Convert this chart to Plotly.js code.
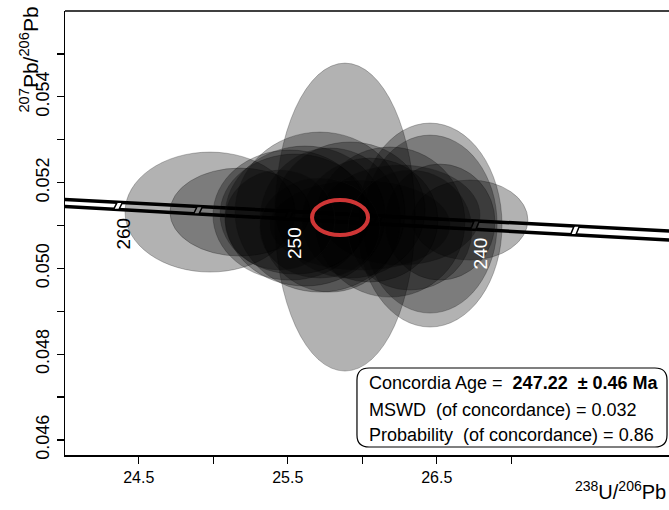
<!DOCTYPE html>
<html>
<head>
<meta charset="utf-8">
<script src="https://cdn.plot.ly/plotly-3.0.1.min.js"></script>
<style>html,body{margin:0;padding:0;background:#fff;}#chart{width:669px;height:510px;}</style>
</head>
<body>
<div id="chart"></div>
<script>
// ---- Data ----
// Analysis error ellipses: centre (238U/206Pb, 207Pb/206Pb) and half-axes
const ellX  = [24.978, 25.179, 25.515, 25.549, 25.616, 25.716, 25.884, 25.784, 25.918, 26.052,
               26.186, 26.455, 26.455, 26.723, 26.522, 26.253, 25.985, 25.716, 26.320, 25.448];
const ellY  = [0.051313, 0.051313, 0.051243, 0.051266, 0.051220, 0.051313, 0.051196, 0.051127, 0.051360, 0.051127,
               0.051080, 0.051010, 0.051033, 0.051127, 0.051080, 0.051243, 0.051010, 0.050940, 0.050893, 0.051127];
const ellSX = [0.570, 0.470, 0.517, 0.503, 0.537, 0.570, 0.470, 0.470, 0.503, 0.456,
               0.503, 0.483, 0.450, 0.389, 0.369, 0.537, 0.604, 0.403, 0.416, 0.369];
const ellSY = [0.001398, 0.001025, 0.001515, 0.001398, 0.001631, 0.001864, 0.003589, 0.001678, 0.001585, 0.001445,
               0.001748, 0.002377, 0.002074, 0.000932, 0.001352, 0.001165, 0.001049, 0.001165, 0.001398, 0.001165];

// Concordia age ellipse
const concEllX = 25.851, concEllY = 0.051185, concEllSX = 0.188, concEllSY = 0.000408;

// Concordia band (upper and lower bounding curves)
const concX     = [24.0, 24.5, 25.0, 25.5, 26.0, 26.5, 27.0, 27.5, 28.1];
const concUpper = [0.051605, 0.051516, 0.051425, 0.051334, 0.051243, 0.051154, 0.051064, 0.050973, 0.050866];
const concLower = [0.051442, 0.051346, 0.051248, 0.051152, 0.051057, 0.050959, 0.050863, 0.050768, 0.050651];

// Age markers on the concordia (Ma) and their 238U/206Pb positions
const ageMarks  = [260, 255, 250, 245, 240, 235];
const ageMarkX  = [24.361, 24.898, 25.508, 26.106, 26.757, 27.428];
const ageLabels = [260, 250, 240];

// Axis ticks (labelled major ticks, unlabelled minor ticks)
const xTickVals  = [24.5, 25.5, 26.5];
const xTickText  = ['24.5', '25.5', '26.5'];
const xMinorVals = [25.0, 26.0, 27.0];
const yTickVals  = [0.046, 0.048, 0.050, 0.052, 0.054];
const yTickText  = ['0.046', '0.048', '0.050', '0.052', '0.054'];
const yMinorVals = [0.047, 0.049, 0.051, 0.053, 0.055];

// Result text
const concAge = '247.22', concAgeErr = '0.46', mswd = '0.032', prob = '0.86';

// ---- Build ----
const FONT = 'Liberation Sans, Arial, sans-serif';
function interp(xs, ys, x) {
  for (let i = 0; i < xs.length - 1; i++) {
    if (x >= xs[i] && x <= xs[i + 1]) {
      const t = (x - xs[i]) / (xs[i + 1] - xs[i]);
      return ys[i] + t * (ys[i + 1] - ys[i]);
    }
  }
  return ys[ys.length - 1];
}

// ellipses drawn above the concordia band
const shapes = ellX.map((x, i) => ({
  type: 'circle', xref: 'x', yref: 'y', layer: 'above',
  x0: x - ellSX[i], x1: x + ellSX[i], y0: ellY[i] - ellSY[i], y1: ellY[i] + ellSY[i],
  fillcolor: 'rgba(0,0,0,0.3)', line: { color: 'rgba(20,20,20,0.45)', width: 0.6 }
}));

shapes.push({
  type: 'circle', xref: 'x', yref: 'y', layer: 'above',
  x0: concEllX - concEllSX, x1: concEllX + concEllSX, y0: concEllY - concEllSY, y1: concEllY + concEllSY,
  fillcolor: 'rgba(0,0,0,0)', line: { color: '#cf3636', width: 4 }
});

// top frame line
shapes.push({ type: 'line', xref: 'paper', yref: 'paper', layer: 'above',
  x0: 0, x1: 1, y0: 1, y1: 1, line: { color: 'black', width: 1.5 } });

// rounded legend box (paper coords)
(function () {
  const x0 = 0.4834, x1 = 0.9967, y0 = 0.018, y1 = 0.196, rx = 0.02, ry = 0.027;
  const p = `M ${x0 + rx},${y1} L ${x1 - rx},${y1} Q ${x1},${y1} ${x1},${y1 - ry} L ${x1},${y0 + ry} Q ${x1},${y0} ${x1 - rx},${y0} ` +
            `L ${x0 + rx},${y0} Q ${x0},${y0} ${x0},${y0 + ry} L ${x0},${y1 - ry} Q ${x0},${y1} ${x0 + rx},${y1} Z`;
  shapes.push({ type: 'path', xref: 'paper', yref: 'paper', layer: 'above', path: p,
    fillcolor: 'white', line: { color: 'black', width: 1.2 } });
})();

const traces = [
  { x: concX, y: concUpper, mode: 'lines', line: { color: 'black', width: 3.5 }, hoverinfo: 'skip' },
  { x: concX, y: concLower, mode: 'lines', line: { color: 'black', width: 3.5 }, hoverinfo: 'skip' }
];

// age marker parallelograms
const tx = [], ty = [];
const hw = 0.018, sk = 0.012;
ageMarkX.forEach(x => {
  const yu = interp(concX, concUpper, x), yl = interp(concX, concLower, x);
  tx.push(x - hw + sk, x + hw + sk, x + hw - sk, x - hw - sk, x - hw + sk, null);
  ty.push(yu, yu, yl, yl, yu, null);
});
traces.push({ x: tx, y: ty, mode: 'lines', fill: 'toself', fillcolor: 'white',
  line: { color: 'black', width: 1.5 }, hoverinfo: 'skip' });

const annotations = [];
ageLabels.forEach(a => {
  const i = ageMarks.indexOf(a);
  const x = ageMarkX[i];
  annotations.push({
    x: x, y: interp(concX, concLower, x), xref: 'x', yref: 'y',
    text: String(a), showarrow: false, textangle: -90,
    xanchor: 'center', yanchor: 'top', xshift: 5, yshift: -6,
    font: { family: FONT, size: 19, color: a === 260 ? 'black' : 'white' }
  });
});

annotations.push(
  { xref: 'paper', yref: 'paper', x: -0.06, y: 0.89, showarrow: false, textangle: -90,
    xanchor: 'center', yanchor: 'middle',
    text: '<sup>207</sup>Pb/<sup>206</sup>Pb', font: { family: FONT, size: 21, color: 'black' } },
  { xref: 'paper', yref: 'paper', x: 0.998, y: -0.079, showarrow: false,
    xanchor: 'right', yanchor: 'middle',
    text: '<sup>238</sup>U/<sup>206</sup>Pb', font: { family: FONT, size: 20, color: 'black' } },
  { xref: 'paper', yref: 'paper', x: 0.5, y: 0.162, showarrow: false, xanchor: 'left', yanchor: 'middle',
    text: 'Concordia Age =\u00a0\u00a0<b>' + concAge + '\u00a0\u00a0± ' + concAgeErr + ' Ma</b>',
    font: { family: FONT, size: 18, color: 'black' } },
  { xref: 'paper', yref: 'paper', x: 0.5, y: 0.101, showarrow: false, xanchor: 'left', yanchor: 'middle',
    text: 'MSWD\u00a0\u00a0(of concordance) = ' + mswd,
    font: { family: FONT, size: 18, color: 'black' } },
  { xref: 'paper', yref: 'paper', x: 0.5, y: 0.045, showarrow: false, xanchor: 'left', yanchor: 'middle',
    text: 'Probability\u00a0\u00a0(of concordance) = ' + prob,
    font: { family: FONT, size: 18, color: 'black' } }
);

const tickStyle = { ticks: 'outside', ticklen: 7, tickwidth: 1.3, tickcolor: 'black' };

const layout = {
  width: 669, height: 510,
  margin: { l: 65, r: 0, t: 11, b: 55 },
  paper_bgcolor: 'white', plot_bgcolor: 'white',
  showlegend: false,
  font: { family: FONT, color: 'black' },
  xaxis: Object.assign({
    range: [24.005, 28.059], showgrid: false, zeroline: false, automargin: false,
    showline: true, mirror: false, linecolor: 'black', linewidth: 1.5,
    tickmode: 'array', tickvals: xTickVals, ticktext: xTickText,
    tickfont: { family: FONT, size: 16, color: 'black' },
    minor: Object.assign({ tickmode: 'array', tickvals: xMinorVals, showgrid: false }, tickStyle)
  }, tickStyle),
  yaxis: Object.assign({
    range: [0.04565, 0.056], showgrid: false, zeroline: false, automargin: false,
    showline: true, mirror: false, linecolor: 'black', linewidth: 1.5,
    tickmode: 'array', tickvals: yTickVals, ticktext: yTickText, tickangle: -90,
    tickfont: { family: FONT, size: 18, color: 'black' },
    minor: Object.assign({ tickmode: 'array', tickvals: yMinorVals, showgrid: false }, tickStyle)
  }, tickStyle),
  shapes: shapes,
  annotations: annotations
};

Plotly.newPlot('chart', traces, layout, { staticPlot: true, displayModeBar: false });
</script>
</body>
</html>
